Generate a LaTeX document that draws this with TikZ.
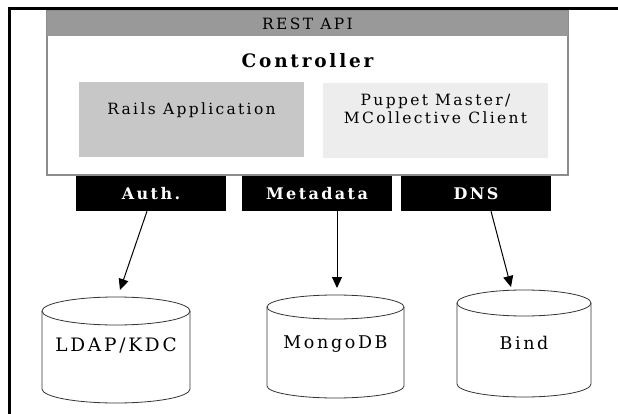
\documentclass[tikz,border=0pt]{standalone}
\usepackage{fontspec}
\setmainfont{DejaVu Serif}[LetterSpace=15]
\usetikzlibrary{arrows.meta}
\tikzset{
  panel/.style={draw=black!45, line width=1.2pt, fill=white, minimum width=521pt, minimum height=164pt, inner sep=0pt},
  apibar/.style={fill=black!40, minimum width=521pt, minimum height=25pt, inner sep=0pt, font=\fontsize{15.5}{17}\selectfont},
  inbox/.style={minimum width=225pt, minimum height=75pt, inner sep=0pt},
  intext/.style={align=center, font=\fontsize{15.5}{18}\selectfont},
  port/.style={fill=black, text=white, minimum width=150pt, minimum height=35pt, inner sep=0pt, font=\fontsize{16}{18}\selectfont\bfseries},
  db/.style={draw=black!80, line width=0.8pt},
  dblabel/.style={font=\fontsize{17.5}{19}\selectfont},
  link/.style={draw, line width=1pt, -{Triangle[length=11pt,width=10pt]}}
}
\begin{document}
\begin{tikzpicture}[x=1pt,y=1pt]
\useasboundingbox (0,0) rectangle (618,-414);
\draw[line width=3pt] (9,-414)--(9,-9)--(618,-9);
\node[panel] (ctrl) at (307.5,-93) {};
\node[apibar] (api) at (307.5,-23.5) {REST API};
\node[font=\fontsize{18.5}{21}\selectfont\bfseries] (title) at (307.5,-61) {Controller};
\node[inbox, fill=black!22] (rails) at (191.5,-120) {};
\node[inbox, fill=black!7] (puppet) at (435.5,-121) {};
\node[intext] (railstext) at (191.5,-110) {Rails Application};
\node[intext] (puppettext) at (435.5,-109) {Puppet Master/\\MCollective Client};
\node[port] (auth) at (151,-193.5) {Auth.};
\node[port] (meta) at (317,-193.5) {Metadata};
\node[port] (dns) at (476,-193.5) {DNS};
\draw[db] (42,-311)--(42,-389) arc[start angle=180,end angle=360,x radius=74,y radius=14]--(190,-311);
\draw[db] (116,-311) ellipse[x radius=74,y radius=14];
\draw[db] (267,-307)--(267,-386) arc[start angle=180,end angle=360,x radius=68.5,y radius=12]--(404,-307);
\draw[db] (335.5,-307) ellipse[x radius=68.5,y radius=12];
\draw[db] (457,-303)--(457,-384) arc[start angle=180,end angle=360,x radius=67,y radius=13]--(591,-303);
\draw[db] (524,-303) ellipse[x radius=67,y radius=13];
\node[dblabel, font=\fontsize{18.5}{20}\selectfont] (ldap) at (116,-345) {LDAP/KDC};
\node[dblabel] (mongo) at (335.5,-344) {MongoDB};
\node[dblabel] (bind) at (524,-343) {Bind};
\coordinate (ldapin) at (120,-290);
\coordinate (mongoin) at (337,-288);
\coordinate (bindin) at (511,-287);
\draw[link] ([xshift=-4pt]auth.south)--(ldapin);
\draw[link] (meta.south -| mongoin)--(mongoin);
\draw[link] ([xshift=15pt]dns.south)--(bindin);
\end{tikzpicture}
\end{document}
